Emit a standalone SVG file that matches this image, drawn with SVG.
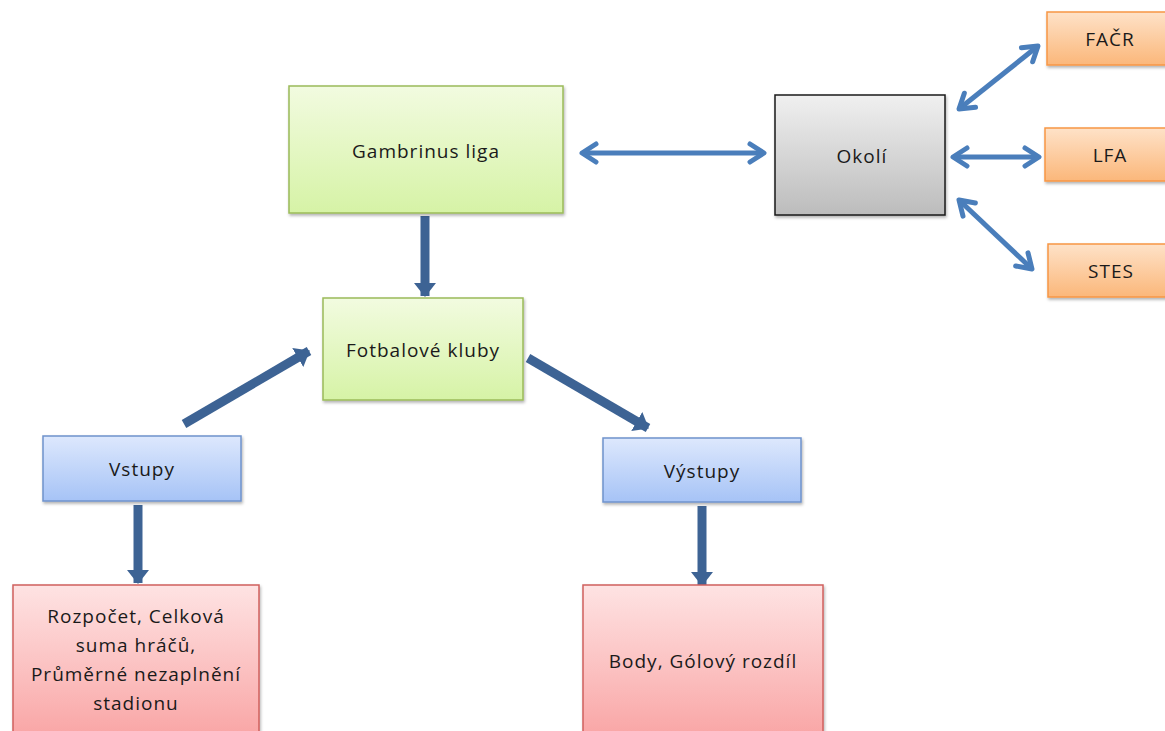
<svg xmlns="http://www.w3.org/2000/svg" width="1165" height="731" viewBox="0 0 1165 731">
<style>
text{font-family:"Open Sans","Liberation Sans",sans-serif;font-size:19px;letter-spacing:1px;fill:#1a1a1a;text-anchor:middle;}
.thick{stroke:#3d6394;stroke-width:9;fill:none;}
.thin{stroke:#4a7ebb;stroke-width:5;fill:none;}
</style>
<defs>
<linearGradient id="gGreen" x1="0" y1="0" x2="0" y2="1"><stop offset="0" stop-color="#f2fbe0"/><stop offset="1" stop-color="#d6f3a6"/></linearGradient>
<linearGradient id="gGray" x1="0" y1="0" x2="0" y2="1"><stop offset="0" stop-color="#f0f0f0"/><stop offset="1" stop-color="#bcbcbc"/></linearGradient>
<linearGradient id="gOrange" x1="0" y1="0" x2="0" y2="1"><stop offset="0" stop-color="#fee2c8"/><stop offset="1" stop-color="#fbb77a"/></linearGradient>
<linearGradient id="gBlue" x1="0" y1="0" x2="0" y2="1"><stop offset="0" stop-color="#dde8fd"/><stop offset="1" stop-color="#a6c3f6"/></linearGradient>
<linearGradient id="gRed" x1="0" y1="0" x2="0" y2="1"><stop offset="0" stop-color="#fee3e3"/><stop offset="1" stop-color="#f9a2a2"/></linearGradient>
<filter id="sh" x="-10%" y="-10%" width="125%" height="130%"><feDropShadow dx="1" dy="2" stdDeviation="1.5" flood-color="#000" flood-opacity="0.3"/></filter>
<marker id="headThick" markerUnits="userSpaceOnUse" viewBox="0 0 14 22" refX="13" refY="11" markerWidth="14" markerHeight="22" orient="auto"><path d="M0,0 L14,11 L0,22 Z" fill="#3d6394"/></marker>
<marker id="headThin" markerUnits="userSpaceOnUse" viewBox="0 0 20 24" refX="17" refY="12" markerWidth="20" markerHeight="24" orient="auto-start-reverse"><path d="M3,3 L17,12 L3,21" fill="none" stroke="#4a7ebb" stroke-width="5" stroke-linecap="round" stroke-linejoin="round"/></marker>
</defs>
<rect width="1165" height="731" fill="#fff"/>

<g id="connectors">
<line class="thin" x1="582" y1="153" x2="764" y2="153" marker-start="url(#headThin)" marker-end="url(#headThin)"/>
<line class="thin" x1="959" y1="109" x2="1038" y2="46" marker-start="url(#headThin)" marker-end="url(#headThin)"/>
<line class="thin" x1="953" y1="157" x2="1039" y2="157" marker-start="url(#headThin)" marker-end="url(#headThin)"/>
<line class="thin" x1="959" y1="200" x2="1032" y2="269" marker-start="url(#headThin)" marker-end="url(#headThin)"/>
<line class="thick" x1="425" y1="216" x2="425" y2="296" marker-end="url(#headThick)"/>
<line class="thick" x1="184" y1="424" x2="309" y2="351" marker-end="url(#headThick)"/>
<line class="thick" x1="528" y1="358" x2="648" y2="428" marker-end="url(#headThick)"/>
<line class="thick" x1="138" y1="505" x2="138" y2="583" marker-end="url(#headThick)"/>
<line class="thick" x1="702" y1="506" x2="702" y2="585" marker-end="url(#headThick)"/>
</g>

<g id="gambrinus">
<rect x="289" y="86" width="274" height="127" fill="url(#gGreen)" stroke="#9bbb59" stroke-width="1.5" filter="url(#sh)"/>
<text x="426" y="158">Gambrinus liga</text>
</g>
<g id="okoli">
<rect x="775" y="95" width="170" height="120" fill="url(#gGray)" stroke="#1a1a1a" stroke-width="1.5" filter="url(#sh)"/>
<text x="862" y="163">Okolí</text>
</g>
<g id="facr">
<rect x="1047" y="12" width="125" height="53" fill="url(#gOrange)" stroke="#f79646" stroke-width="1.5" filter="url(#sh)"/>
<text x="1110" y="46">FAČR</text>
</g>
<g id="lfa">
<rect x="1045" y="128" width="127" height="53" fill="url(#gOrange)" stroke="#f79646" stroke-width="1.5" filter="url(#sh)"/>
<text x="1110" y="162">LFA</text>
</g>
<g id="stes">
<rect x="1048" y="244" width="124" height="53" fill="url(#gOrange)" stroke="#f79646" stroke-width="1.5" filter="url(#sh)"/>
<text x="1111" y="278">STES</text>
</g>
<g id="fotbal">
<rect x="323" y="298" width="200" height="102" fill="url(#gGreen)" stroke="#9bbb59" stroke-width="1.5" filter="url(#sh)"/>
<text x="423" y="357">Fotbalové kluby</text>
</g>
<g id="vstupy">
<rect x="43" y="436" width="198" height="65" fill="url(#gBlue)" stroke="#6f93cc" stroke-width="1.5" filter="url(#sh)"/>
<text x="142" y="476">Vstupy</text>
</g>
<g id="vystupy">
<rect x="603" y="438" width="198" height="64" fill="url(#gBlue)" stroke="#6f93cc" stroke-width="1.5" filter="url(#sh)"/>
<text x="702" y="478">Výstupy</text>
</g>
<g id="vstupy-detail">
<rect x="13" y="585" width="246" height="160" fill="url(#gRed)" stroke="#d0605d" stroke-width="1.5" filter="url(#sh)"/>
<text x="136" y="623">Rozpočet, Celková</text>
<text x="136" y="652">suma hráčů,</text>
<text x="136" y="681">Průměrné nezaplnění</text>
<text x="136" y="710">stadionu</text>
</g>
<g id="vystupy-detail">
<rect x="583" y="585" width="240" height="160" fill="url(#gRed)" stroke="#d0605d" stroke-width="1.5" filter="url(#sh)"/>
<text x="703" y="668">Body, Gólový rozdíl</text>
</g>
</svg>
